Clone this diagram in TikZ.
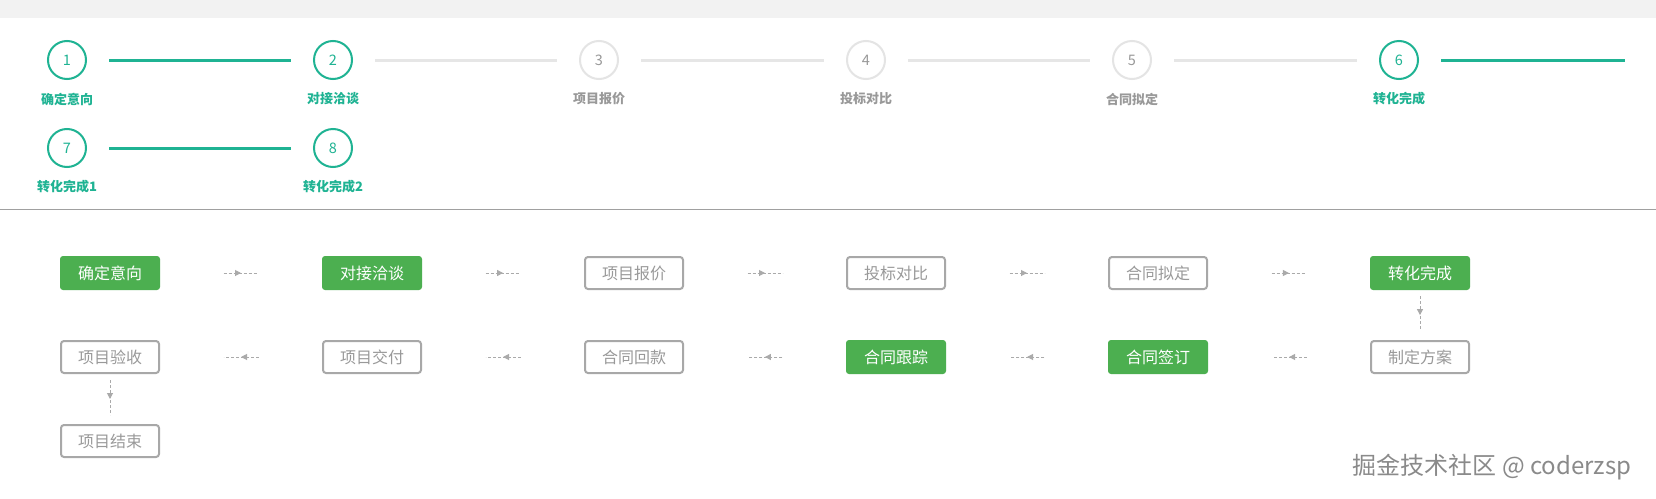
\documentclass[tikz,border=0pt]{standalone}
\usepackage{fontspec}
\setmainfont{Noto Sans CJK SC}
\usetikzlibrary{positioning,calc}
\usetikzlibrary{arrows.meta,decorations.markings}
\definecolor{stepgreen}{HTML}{1FB393}
\definecolor{stepring}{HTML}{E4E4E4}
\definecolor{stepnum}{HTML}{999999}
\definecolor{labelgray}{HTML}{999999}
\definecolor{linegray}{HTML}{E6E6E6}
\definecolor{boxgreen}{HTML}{4CAF50}
\definecolor{boxgray}{HTML}{A8A8A8}
\definecolor{textgray}{HTML}{999999}
\definecolor{arrowgray}{HTML}{AAAAAA}
\definecolor{sepgray}{HTML}{A0A0A0}
\definecolor{bandgray}{HTML}{F2F2F2}
\definecolor{markgray}{HTML}{8A8A8A}
\tikzstyle{stepdone} = [circle, minimum size=38pt, inner sep=0pt, line width=2pt,
draw=stepgreen, text=stepgreen, font=\fontsize{14.5pt}{14.5pt}\selectfont]
\tikzstyle{steptodo} = [circle, minimum size=38pt, inner sep=0pt, line width=2pt,
draw=stepring, text=stepnum, font=\fontsize{14.5pt}{14.5pt}\selectfont]
\tikzstyle{labeldone} = [inner sep=0pt, text=stepgreen, font=\bfseries\fontsize{13pt}{13pt}\selectfont]
\tikzstyle{labeltodo} = [inner sep=0pt, text=labelgray, font=\bfseries\fontsize{13pt}{13pt}\selectfont]
\tikzstyle{linedone} = [line width=3pt, draw=stepgreen, shorten <=22pt, shorten >=22pt]
\tikzstyle{linetodo} = [line width=3pt, draw=linegray, shorten <=22pt, shorten >=22pt]
\tikzstyle{done} = [rectangle, rounded corners=3pt, minimum width=100pt, minimum height=34pt,
inner sep=0pt, fill=boxgreen, text=white, font=\fontsize{16pt}{16pt}\selectfont]
\tikzstyle{todo} = [rectangle, rounded corners=3pt, minimum width=98pt, minimum height=32pt,
inner sep=0pt, line width=2pt, draw=boxgray, fill=white, text=textgray, font=\fontsize{16pt}{16pt}\selectfont]
\tikzstyle{flow} = [draw=arrowgray, line width=1pt, dash pattern=on 3pt off 2pt,
shorten <=63.5pt, shorten >=63.5pt, postaction={decorate},
decoration={markings, mark=at position 0.5 with {\arrow{Triangle[length=6pt,width=6pt]}}}]
\tikzstyle{flowdown} = [flow, shorten <=6pt, shorten >=9pt]
\begin{document}
\begin{tikzpicture}[x=1pt,y=-1pt]
\useasboundingbox (0,0) rectangle (1656,498);
\fill[white] (0,0) rectangle (1656,498);
\fill[bandgray] (0,0) rectangle (1656,18);
% steps
\node (s1) at (67,60) [stepdone] {1};
\node (s2) at (333,60) [stepdone] {2};
\node (s3) at (599,60) [steptodo] {3};
\node (s4) at (866,60) [steptodo] {4};
\node (s5) at (1132,60) [steptodo] {5};
\node (s6) at (1399,60) [stepdone] {6};
\node (s7) at (67,148) [stepdone] {7};
\node (s8) at (333,148) [stepdone] {8};
\coordinate (s6end) at (1625,60);
\node (l1) at (67,99) [labeldone] {确定意向};
\node (l2) at (333,99) [labeldone] {对接洽谈};
\node (l3) at (599,99) [labeltodo] {项目报价};
\node (l4) at (866,99) [labeltodo] {投标对比};
\node (l5) at (1132,99) [labeltodo] {合同拟定};
\node (l6) at (1399,99) [labeldone] {转化完成};
\node (l7) at (67,187) [labeldone] {转化完成1};
\node (l8) at (333,187) [labeldone] {转化完成2};
\draw[linedone] (s1) -- (s2);
\draw[linetodo] (s2) -- (s3);
\draw[linetodo] (s3) -- (s4);
\draw[linetodo] (s4) -- (s5);
\draw[linetodo] (s5) -- (s6);
\draw[linedone, shorten >=0pt] (s6) -- (s6end);
\draw[linedone] (s7) -- (s8);
\draw[sepgray, line width=1pt] (0,209) -- (1656,209);
% flow
\node (f1) at (110,273) [done] {确定意向};
\node (f2) at (372,273) [done] {对接洽谈};
\node (f3) at (634,273) [todo] {项目报价};
\node (f4) at (896,273) [todo] {投标对比};
\node (f5) at (1158,273) [todo] {合同拟定};
\node (f6) at (1420,273) [done] {转化完成};
\node (f7) at (1420,357) [todo] {制定方案};
\node (f8) at (1158,357) [done] {合同签订};
\node (f9) at (896,357) [done] {合同跟踪};
\node (f10) at (634,357) [todo] {合同回款};
\node (f11) at (372,357) [todo] {项目交付};
\node (f12) at (110,357) [todo] {项目验收};
\node (f13) at (110,441) [todo] {项目结束};
\draw[flow] (f1) -- (f2);
\draw[flow] (f2) -- (f3);
\draw[flow] (f3) -- (f4);
\draw[flow] (f4) -- (f5);
\draw[flow] (f5) -- (f6);
\draw[flowdown] (f6) -- (f7);
\draw[flow] (f7) -- (f8);
\draw[flow] (f8) -- (f9);
\draw[flow] (f9) -- (f10);
\draw[flow] (f10) -- (f11);
\draw[flow] (f11) -- (f12);
\draw[flowdown] (f12) -- (f13);
\node (mark) at (1492,467) [text=markgray, font=\fontsize{24pt}{24pt}\selectfont] {掘金技术社区 @ coderzsp};
\end{tikzpicture}
\end{document}
